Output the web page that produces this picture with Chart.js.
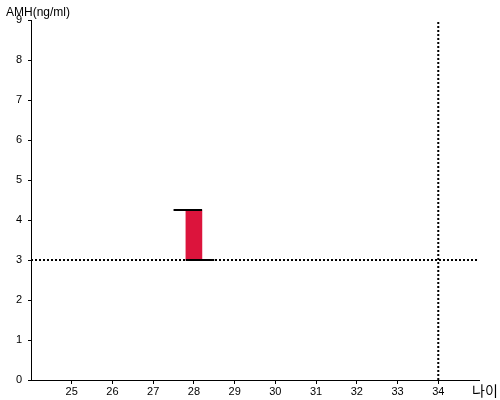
<!DOCTYPE html>
<html><head><meta charset="utf-8">
<script src="https://cdn.jsdelivr.net/npm/chart.js@4"></script>
<style>html,body{margin:0;padding:0;background:#fff}#w{width:500px;height:400px}</style>
</head><body><div id="w"><canvas id="c" width="500" height="400"></canvas></div>
<script>
const xTickValues = [25,26,27,28,29,30,31,32,33,34];
const yTickValues = [0,1,2,3,4,5,6,7,8,9];
const barAge = [28];
const barRange = [[3, 4.25]];
const topCapX = [27.5, 28.2];
const topCapY = 4.25;
const bottomCapX = [27.8, 28.5];
const bottomCapY = 3;
const refLineY = 3;
const refLineX = 34;
const xMin = 24, xMax = 35, yMin = 0, yMax = 9;

const titlePlugin = {
  id: 'labels',
  afterDraw(chart) {
    const ctx = chart.ctx;
    ctx.save();
    ctx.fillStyle = '#000';
    ctx.font = '12px "Liberation Sans", Arial, sans-serif';
    ctx.textBaseline = 'alphabetic';
    ctx.textAlign = 'left';
    ctx.fillText('AMH(ng/ml)', 6, 16);
    ctx.font = '14px "Noto Sans CJK KR", sans-serif';
    ctx.fillText('나이', 472, 396);
    ctx.restore();
  }
};

new Chart(document.getElementById('c'), {
  type: 'bar',
  data: {
    datasets: [
      { type: 'line', data: [{x: xMin, y: refLineY}, {x: xMax, y: refLineY}], borderColor: '#000', borderWidth: 2, borderDash: [2,2], pointRadius: 0, order: 0 },
      { type: 'line', data: [{x: refLineX, y: yMin}, {x: refLineX, y: yMax}], borderColor: '#000', borderWidth: 2, borderDash: [2,2], pointRadius: 0, order: 0 },
      { type: 'line', data: topCapX.map(x => ({x, y: topCapY})), borderColor: '#000', borderWidth: 2, pointRadius: 0, order: 0 },
      { type: 'line', data: bottomCapX.map(x => ({x, y: bottomCapY})), borderColor: '#000', borderWidth: 2, pointRadius: 0, order: 0 },
      { type: 'bar', data: barAge.map((x, i) => ({x, y: barRange[i]})), backgroundColor: '#DC143C', barThickness: 16, borderWidth: 0, order: 1 }
    ]
  },
  options: {
    responsive: false,
    animation: false,
    events: [],
    layout: { padding: { top: 20, right: 21, left: 0, bottom: 0 } },
    plugins: { legend: { display: false }, tooltip: { enabled: false } },
    scales: {
      x: {
        type: 'linear', min: xMin, max: xMax, offset: false,
        afterFit: s => { s.height = 20; },
        afterBuildTicks: s => { s.ticks = [xMin, ...xTickValues, xMax].map(v => ({value: v})); },
        border: { color: '#000', width: 1 },
        grid: { offset: false, drawOnChartArea: false, drawTicks: true, tickLength: 4,
          color: c => (c.tick && (c.tick.value === xMin || c.tick.value === xMax)) ? 'rgba(0,0,0,0)' : '#000' },
        ticks: { color: '#000', padding: 1, maxRotation: 0, autoSkip: false,
          font: { family: '"Liberation Sans", Arial, sans-serif', size: 11 },
          callback: v => xTickValues.includes(v) ? String(v) : '' }
      },
      y: {
        type: 'linear', min: yMin, max: yMax,
        afterFit: s => { s.width = 31; },
        afterBuildTicks: s => { s.ticks = yTickValues.map(v => ({value: v})); },
        border: { color: '#000', width: 1 },
        grid: { drawOnChartArea: false, drawTicks: true, tickLength: 3, color: '#000' },
        ticks: { color: '#000', padding: 6, autoSkip: false,
          font: { family: '"Liberation Sans", Arial, sans-serif', size: 11 } }
      }
    }
  },
  plugins: [titlePlugin]
});
</script>
</body></html>
